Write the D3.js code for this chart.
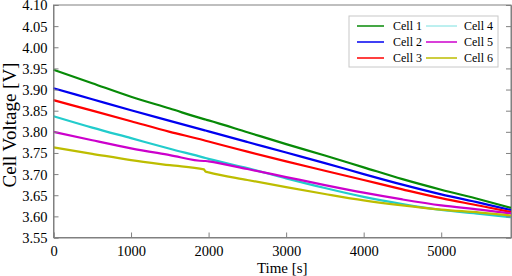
<!DOCTYPE html>
<html><head><meta charset="utf-8">
<script src="https://cdn.jsdelivr.net/npm/d3@7"></script>
<style>body{margin:0;background:#fff}svg{display:block}</style>
</head><body>
<svg id="c" width="512" height="276"></svg>
<script>
const times = [0, 500, 1000, 1500, 1940, 1960, 2000, 2500, 3000, 3500, 4000, 4500, 5000, 5500, 5900];
const cell1 = [3.947, 3.915, 3.883, 3.855, 3.830, 3.829, 3.827, 3.799, 3.771, 3.744, 3.716, 3.688, 3.663, 3.640, 3.620];
const cell2 = [3.903, 3.877, 3.851, 3.826, 3.804, 3.803, 3.801, 3.776, 3.751, 3.726, 3.700, 3.675, 3.652, 3.632, 3.615];
const cell3 = [3.875, 3.850, 3.825, 3.800, 3.780, 3.779, 3.777, 3.753, 3.730, 3.708, 3.686, 3.664, 3.643, 3.625, 3.610];
const cell4 = [3.837, 3.810, 3.785, 3.760, 3.739, 3.738, 3.736, 3.714, 3.690, 3.667, 3.646, 3.629, 3.615, 3.606, 3.598];
const cell5 = [3.800, 3.780, 3.761, 3.745, 3.731, 3.731, 3.730, 3.712, 3.693, 3.674, 3.656, 3.640, 3.626, 3.616, 3.607];
const cell6 = [3.763, 3.748, 3.733, 3.721, 3.711, 3.706, 3.704, 3.686, 3.669, 3.653, 3.638, 3.626, 3.616, 3.609, 3.602];
const seriesNames = ["Cell 1", "Cell 2", "Cell 3", "Cell 4", "Cell 5", "Cell 6"];
const colors = ["#078a07", "#0000f0", "#ff0000", "#22cccc", "#cc00cc", "#bdbd00"];
const xTicks = [0, 1000, 2000, 3000, 4000, 5000];
const yTicks = [3.55, 3.60, 3.65, 3.70, 3.75, 3.80, 3.85, 3.90, 3.95, 4.00, 4.05, 4.10];

const series = [cell1, cell2, cell3, cell4, cell5, cell6];
const svg = d3.select("#c");
const m = {l: 53.5, r: 511, t: 5, b: 237.5};
const x = d3.scaleLinear().domain([0, 5900]).range([m.l, m.r]);
const y = d3.scaleLinear().domain([3.55, 4.10]).range([m.b, m.t]);
const font = "'Liberation Serif', 'Times New Roman', serif";
const axisCol = "#808080";

// frame
svg.append("rect").attr("x", m.l).attr("y", m.t).attr("width", m.r - m.l).attr("height", m.b - m.t)
  .attr("fill", "none").attr("stroke", axisCol).attr("stroke-width", 1);

// lines
const line = d3.line().x((d, i) => x(times[i])).y(d => y(d)).curve(d3.curveMonotoneX);
series.forEach((s, k) => {
  svg.append("path").datum(s).attr("d", line).attr("fill", "none")
    .attr("stroke", colors[k]).attr("stroke-width", 2.2);
});

// axes
const xa = svg.append("g").attr("transform", `translate(0,${m.b})`)
  .call(d3.axisBottom(x).tickValues(xTicks).tickSize(-5).tickPadding(8).tickFormat(d3.format("d")));
const ya = svg.append("g").attr("transform", `translate(${m.l},0)`)
  .call(d3.axisLeft(y).tickValues(yTicks).tickSize(-5).tickPadding(6).tickFormat(d3.format(".2f")));
const yr = svg.append("g").attr("transform", `translate(${m.r},0)`)
  .call(d3.axisRight(y).tickValues(yTicks).tickSize(-5).tickFormat(""));
[xa, ya, yr].forEach(g => {
  g.select(".domain").attr("stroke", axisCol);
  g.selectAll(".tick line").attr("stroke", axisCol);
  g.selectAll("text").attr("font-family", font).attr("font-size", 14.5).attr("fill", "#000");
});
ya.selectAll("text").attr("dy", "0.34em");

// axis titles
svg.append("text").attr("x", (m.l + m.r) / 2).attr("y", 273).attr("text-anchor", "middle")
  .attr("font-family", font).attr("font-size", 15).text("Time [s]");
svg.append("text").attr("transform", `translate(16,125) rotate(-90)`)
  .attr("text-anchor", "middle").attr("font-family", font).attr("font-size", 19).text("Cell Voltage [V]");

// legend
const lg = svg.append("g");
lg.append("rect").attr("x", 349).attr("y", 16).attr("width", 149).attr("height", 51)
  .attr("fill", "#fff").attr("stroke", "#c8c8c8").attr("stroke-width", 1);
seriesNames.forEach((n, k) => {
  const col = Math.floor(k / 3), row = k % 3;
  const lx = col === 0 ? 357 : 426, lw = col === 0 ? 27 : 31;
  const ty = 26 + row * 16;
  lg.append("line").attr("x1", lx).attr("x2", lx + lw).attr("y1", ty).attr("y2", ty)
    .attr("stroke", colors[k]).attr("stroke-width", k === 3 ? 1 : 1.5)
    .attr("stroke-opacity", k === 3 ? 0.6 : 1);
  lg.append("text").attr("x", col === 0 ? 393 : 464).attr("y", ty + 4)
    .attr("font-family", font).attr("font-size", 12).text(n);
});
</script>
</body></html>
